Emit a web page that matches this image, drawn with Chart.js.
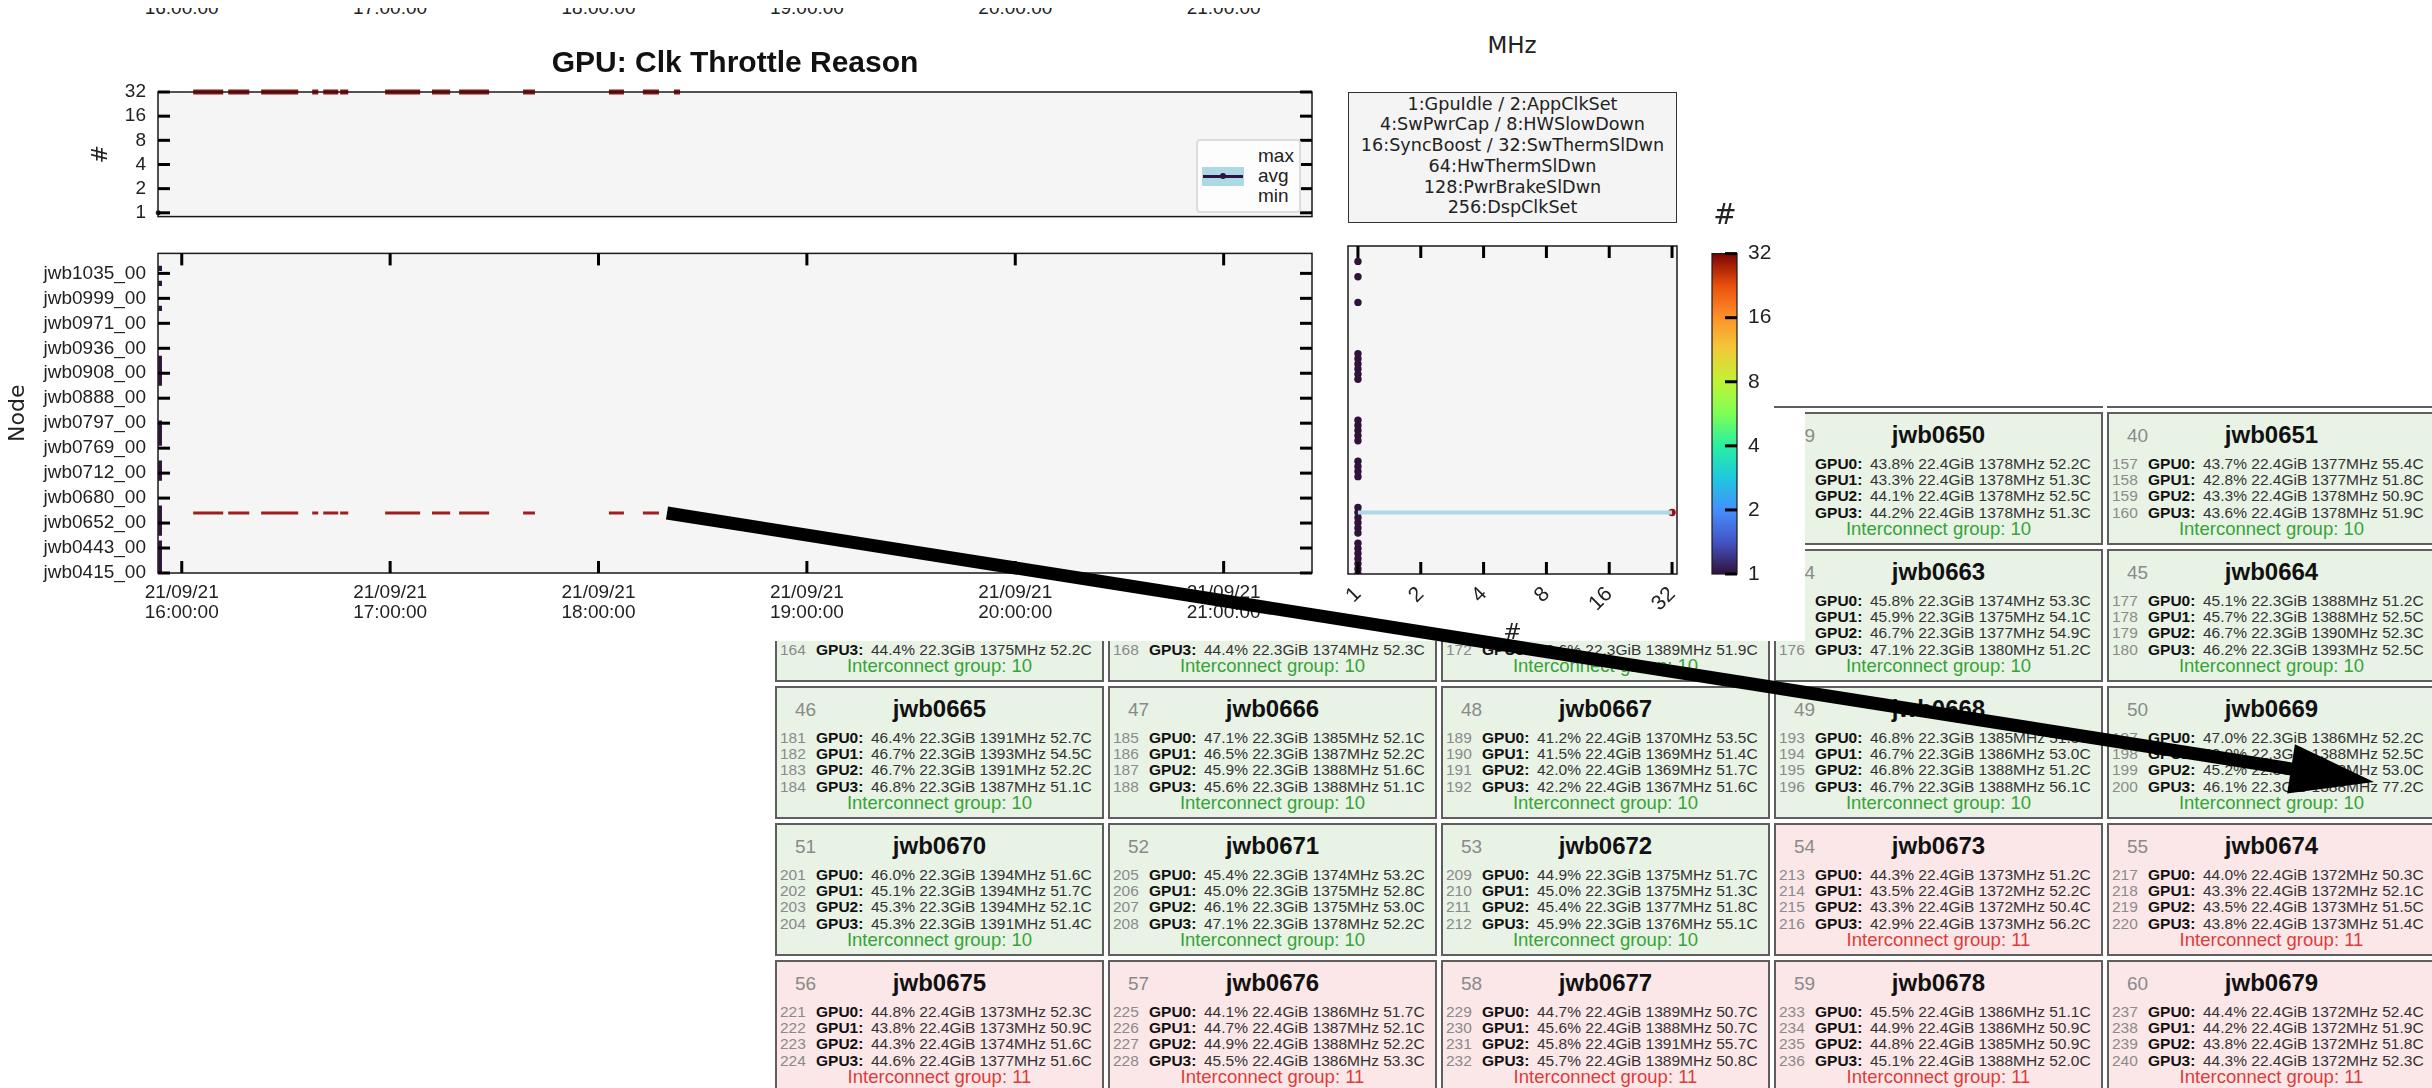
<!DOCTYPE html>
<html>
<head>
<meta charset="utf-8">
<script src="https://cdn.jsdelivr.net/npm/chart.js@4.4.1/dist/chart.umd.min.js"></script>
<style>
html,body{margin:0;padding:0;background:#fff;}
body{width:2432px;height:1088px;position:relative;overflow:hidden;font-family:'Liberation Sans',Arial,sans-serif;color:#222;}
.abs{position:absolute;}
canvas{position:absolute;z-index:3;}
.cover{position:absolute;background:#fff;z-index:2;}
.card{position:absolute;width:329px;height:133px;box-sizing:border-box;border:2px solid #5e5e5e;z-index:1;}
.card.g{background:#e8f3e6;}
.card.r{background:#fbe7e7;}
.card .idx{position:absolute;left:18px;top:10px;font-size:19px;line-height:24px;color:#8a8a8a;}
.card .host{position:absolute;left:0;width:325px;text-align:center;top:7px;font-size:24px;line-height:28px;font-weight:bold;color:#111;}
.card .row{position:absolute;left:0;width:325px;height:17px;line-height:17px;font-size:15.5px;white-space:nowrap;color:#333;}
.row .n{position:absolute;left:3px;color:#8a8a8a;}
.row .l{position:absolute;left:39px;font-weight:bold;color:#111;}
.row .v{position:absolute;left:94px;}
.card .ic{position:absolute;left:0;width:325px;text-align:center;top:104px;font-size:18.5px;line-height:22px;}
.ic.gt{color:#36a336;}
.ic.rt{color:#e03a3a;}
.txt{position:absolute;z-index:4;white-space:nowrap;}
</style>
</head>
<body>
<div id="cards"></div>
<div class="cover" style="left:0;top:0;width:1805px;height:641px;"></div>
<div class="cover" style="left:0;top:0;width:2432px;height:406px;"></div>
<div class="abs" style="left:1774px;top:406px;width:329px;height:2px;background:#5e5e5e;z-index:2"></div>
<div class="abs" style="left:2107px;top:406px;width:329px;height:2px;background:#5e5e5e;z-index:2"></div>

<div id="strip"></div>
<div class="cover" style="left:0;top:0;width:1340px;height:8px;z-index:5"></div>

<div class="txt" style="left:1452px;top:31px;width:120px;text-align:center;font-family:'DejaVu Sans';font-size:23px;line-height:28px;">MHz</div>
<div class="txt" style="left:435px;top:44px;width:600px;text-align:center;font-size:30px;line-height:36px;font-weight:bold;color:#111;">GPU: Clk Throttle Reason</div>

<div class="txt" style="left:1348px;top:92px;width:329px;height:131px;box-sizing:border-box;border:1.5px solid #333;background:#f4f4f4;text-align:center;font-family:'DejaVu Sans';font-size:17.6px;line-height:20.8px;padding-top:0.5px;color:#222;">1:GpuIdle / 2:AppClkSet<br>4:SwPwrCap / 8:HWSlowDown<br>16:SyncBoost / 32:SwThermSlDwn<br>64:HwThermSlDwn<br>128:PwrBrakeSlDwn<br>256:DspClkSet</div>

<div class="txt" style="left:1196px;top:139px;width:105px;height:74px;box-sizing:border-box;border:2px solid #dcdcdc;border-radius:4px;background:#fdfdfd;"></div>
<div class="txt" style="left:1202px;top:167px;width:42px;height:19px;background:#add8e6;"></div>
<div class="txt" style="left:1203px;top:174.5px;width:40px;height:3px;background:#30123b;"></div>
<div class="txt" style="left:1220px;top:173px;width:6px;height:6px;border-radius:3px;background:#30123b;"></div>
<div class="txt" style="left:1258px;top:146px;font-size:19px;line-height:20px;">max</div>
<div class="txt" style="left:1258px;top:166px;font-size:19px;line-height:20px;">avg</div>
<div class="txt" style="left:1258px;top:186px;font-size:19px;line-height:20px;">min</div>

<div class="txt" style="left:1700px;top:198px;width:50px;text-align:center;font-family:'DejaVu Sans';font-size:28px;line-height:34px;">#</div>

<canvas id="cTop" width="1340" height="180" style="left:0;top:60px;"></canvas>
<canvas id="cHeat" width="1340" height="420" style="left:0;top:230px;"></canvas>
<canvas id="cScat" width="360" height="420" style="left:1340px;top:230px;"></canvas>
<canvas id="cBar" width="110" height="380" style="left:1690px;top:230px;"></canvas>

<svg class="abs" style="left:0;top:0;z-index:10" width="2432" height="1088" id="arrow"></svg>

<script>
// ---------------- data ----------------
const HOUR_TICKS = [16, 17, 18, 19, 20, 21];
const DATE_LABEL = '21/09/21';
const NODE_TICK_POS = [0, 5, 10, 15, 20, 25, 30, 35, 40, 45, 50, 55, 60];
const NODE_TICK_LABELS = ['jwb0415_00','jwb0443_00','jwb0652_00','jwb0680_00','jwb0712_00','jwb0769_00','jwb0797_00','jwb0888_00','jwb0908_00','jwb0936_00','jwb0971_00','jwb0999_00','jwb1035_00'];
const COUNT_TICKS = [1, 2, 4, 8, 16, 32];
const THROTTLE_NODE = 12;
const THROTTLE_VALUE = 32;
const THROTTLE_START = [16.055, 16.223, 16.381, 16.626, 16.679, 16.760, 16.976, 17.201, 17.331, 17.638, 18.050, 18.213, 18.362];
const THROTTLE_END   = [16.199, 16.324, 16.559, 16.655, 16.751, 16.799, 17.144, 17.288, 17.475, 17.695, 18.122, 18.290, 18.391];
const FIRST_SAMPLE_START = 15.887;
const FIRST_SAMPLE_END = 15.905;
const IDLE_VALUE = 1;
const IDLE_NODES = [0,1,2,3,4,5,6,8,9,10,11,12,13,19,20,21,22,26,27,28,29,30,38,39,40,41,42,43,53,58,61];
const PREV_TIME_LABELS = ['16:00:00','17:00:00','18:00:00','19:00:00','20:00:00','21:00:00'];

// node cards: [row, col, number, host, group, gpu lines [idx, util, mem, clock, temp]]
const CARDS = [
  [0,3,'39','jwb0650',10,[[153,'43.8%','22.4GiB','1378MHz','52.2C'],[154,'43.3%','22.4GiB','1378MHz','51.3C'],[155,'44.1%','22.4GiB','1378MHz','52.5C'],[156,'44.2%','22.4GiB','1378MHz','51.3C']]],
  [0,4,'40','jwb0651',10,[[157,'43.7%','22.4GiB','1377MHz','55.4C'],[158,'42.8%','22.4GiB','1377MHz','51.8C'],[159,'43.3%','22.4GiB','1378MHz','50.9C'],[160,'43.6%','22.4GiB','1378MHz','51.9C']]],
  [1,0,'','',10,[null,null,null,[164,'44.4%','22.3GiB','1375MHz','52.2C']]],
  [1,1,'','',10,[null,null,null,[168,'44.4%','22.3GiB','1374MHz','52.3C']]],
  [1,2,'','',10,[null,null,null,[172,'46.6%','22.3GiB','1389MHz','51.9C']]],
  [1,3,'44','jwb0663',10,[[173,'45.8%','22.3GiB','1374MHz','53.3C'],[174,'45.9%','22.3GiB','1375MHz','54.1C'],[175,'46.7%','22.3GiB','1377MHz','54.9C'],[176,'47.1%','22.3GiB','1380MHz','51.2C']]],
  [1,4,'45','jwb0664',10,[[177,'45.1%','22.3GiB','1388MHz','51.2C'],[178,'45.7%','22.3GiB','1388MHz','52.5C'],[179,'46.7%','22.3GiB','1390MHz','52.3C'],[180,'46.2%','22.3GiB','1393MHz','52.5C']]],
  [2,0,'46','jwb0665',10,[[181,'46.4%','22.3GiB','1391MHz','52.7C'],[182,'46.7%','22.3GiB','1393MHz','54.5C'],[183,'46.7%','22.3GiB','1391MHz','52.2C'],[184,'46.8%','22.3GiB','1387MHz','51.1C']]],
  [2,1,'47','jwb0666',10,[[185,'47.1%','22.3GiB','1385MHz','52.1C'],[186,'46.5%','22.3GiB','1387MHz','52.2C'],[187,'45.9%','22.3GiB','1388MHz','51.6C'],[188,'45.6%','22.3GiB','1388MHz','51.1C']]],
  [2,2,'48','jwb0667',10,[[189,'41.2%','22.4GiB','1370MHz','53.5C'],[190,'41.5%','22.4GiB','1369MHz','51.4C'],[191,'42.0%','22.4GiB','1369MHz','51.7C'],[192,'42.2%','22.4GiB','1367MHz','51.6C']]],
  [2,3,'49','jwb0668',10,[[193,'46.8%','22.3GiB','1385MHz','51.8C'],[194,'46.7%','22.3GiB','1386MHz','53.0C'],[195,'46.8%','22.3GiB','1388MHz','51.2C'],[196,'46.7%','22.3GiB','1388MHz','56.1C']]],
  [2,4,'50','jwb0669',10,[[197,'47.0%','22.3GiB','1386MHz','52.2C'],[198,'46.0%','22.3GiB','1388MHz','52.5C'],[199,'45.2%','22.3GiB','1388MHz','53.0C'],[200,'46.1%','22.3GiB','1388MHz','77.2C']]],
  [3,0,'51','jwb0670',10,[[201,'46.0%','22.3GiB','1394MHz','51.6C'],[202,'45.1%','22.3GiB','1394MHz','51.7C'],[203,'45.3%','22.3GiB','1394MHz','52.1C'],[204,'45.3%','22.3GiB','1391MHz','51.4C']]],
  [3,1,'52','jwb0671',10,[[205,'45.4%','22.3GiB','1374MHz','53.2C'],[206,'45.0%','22.3GiB','1375MHz','52.8C'],[207,'46.1%','22.3GiB','1375MHz','53.0C'],[208,'47.1%','22.3GiB','1378MHz','52.2C']]],
  [3,2,'53','jwb0672',10,[[209,'44.9%','22.3GiB','1375MHz','51.7C'],[210,'45.0%','22.3GiB','1375MHz','51.3C'],[211,'45.4%','22.3GiB','1377MHz','51.8C'],[212,'45.9%','22.3GiB','1376MHz','55.1C']]],
  [3,3,'54','jwb0673',11,[[213,'44.3%','22.4GiB','1373MHz','51.2C'],[214,'43.5%','22.4GiB','1372MHz','52.2C'],[215,'43.3%','22.4GiB','1372MHz','50.4C'],[216,'42.9%','22.4GiB','1373MHz','56.2C']]],
  [3,4,'55','jwb0674',11,[[217,'44.0%','22.4GiB','1372MHz','50.3C'],[218,'43.3%','22.4GiB','1372MHz','52.1C'],[219,'43.5%','22.4GiB','1373MHz','51.5C'],[220,'43.8%','22.4GiB','1373MHz','51.4C']]],
  [4,0,'56','jwb0675',11,[[221,'44.8%','22.4GiB','1373MHz','52.3C'],[222,'43.8%','22.4GiB','1373MHz','50.9C'],[223,'44.3%','22.4GiB','1374MHz','51.6C'],[224,'44.6%','22.4GiB','1377MHz','51.6C']]],
  [4,1,'57','jwb0676',11,[[225,'44.1%','22.4GiB','1386MHz','51.7C'],[226,'44.7%','22.4GiB','1387MHz','52.1C'],[227,'44.9%','22.4GiB','1388MHz','52.2C'],[228,'45.5%','22.4GiB','1386MHz','53.3C']]],
  [4,2,'58','jwb0677',11,[[229,'44.7%','22.4GiB','1389MHz','50.7C'],[230,'45.6%','22.4GiB','1388MHz','50.7C'],[231,'45.8%','22.4GiB','1391MHz','55.7C'],[232,'45.7%','22.4GiB','1389MHz','50.8C']]],
  [4,3,'59','jwb0678',11,[[233,'45.5%','22.4GiB','1386MHz','51.1C'],[234,'44.9%','22.4GiB','1386MHz','50.9C'],[235,'44.8%','22.4GiB','1385MHz','50.9C'],[236,'45.1%','22.4GiB','1388MHz','52.0C']]],
  [4,4,'60','jwb0679',11,[[237,'44.4%','22.4GiB','1372MHz','52.4C'],[238,'44.2%','22.4GiB','1372MHz','51.9C'],[239,'43.8%','22.4GiB','1372MHz','51.8C'],[240,'44.3%','22.4GiB','1372MHz','52.3C']]]
];

// ---------------- layout / style ----------------
const CARD_X = [775, 1108, 1441, 1774, 2107];
const CARD_Y = [412, 549, 686, 823, 960];
const ROW_TOP = [40.5, 56.8, 73.2, 89.5];
const X_MIN = 15.886, X_MAX = 21.424;
const PURPLE = '#30123b';
const RED_TOP = '#8e1212';
const RED_HEAT = '#9e1f1f';
const RED_DOT = '#9a1010';
const BAND = '#add8e6';
const TURBO = ['#30123b','#4454c4','#4490fe','#1fc8de','#29efa2','#7dff56','#c1f334','#f1ca3a','#fe922a','#ea4f0d','#7a0403'];
const BG = '#f5f5f5';

// cards
const cardHost = document.getElementById('cards');
CARDS.forEach(c => {
  const [r, col, num, host, grp, gpus] = c;
  const d = document.createElement('div');
  d.className = 'card ' + (grp === 10 ? 'g' : 'r');
  d.style.left = CARD_X[col] + 'px';
  d.style.top = CARD_Y[r] + 'px';
  let html = '<div class="idx">' + num + '</div><div class="host">' + host + '</div>';
  gpus.forEach((g, i) => {
    if (!g) return;
    html += '<div class="row" style="top:' + ROW_TOP[i] + 'px"><span class="n">' + g[0] + '</span><span class="l">GPU' + i + ':</span><span class="v">' + g[1] + ' ' + g[2] + ' ' + g[3] + ' ' + g[4] + '</span></div>';
  });
  html += '<div class="ic ' + (grp === 10 ? 'gt' : 'rt') + '">Interconnect group: ' + grp + '</div>';
  d.innerHTML = html;
  cardHost.appendChild(d);
});

// strip of cut labels from the figure above
const strip = document.getElementById('strip');
const STRIP_X = [181.7, 390.1, 598.5, 806.9, 1015.3, 1223.7];
PREV_TIME_LABELS.forEach((t, i) => {
  const e = document.createElement('div');
  e.className = 'txt';
  e.style.cssText = 'left:' + (STRIP_X[i] - 60) + 'px;top:-2px;width:120px;text-align:center;font-size:19px;line-height:19px;';
  e.textContent = t;
  strip.appendChild(e);
});

// arrow
(function () {
  const sx = 667, sy = 513, tx = 2374, ty = 782;
  const dx = tx - sx, dy = ty - sy, len = Math.hypot(dx, dy);
  const ux = dx / len, uy = dy / len, px = -uy, py = ux;
  const hl = 84, hw = 25;
  const bx = tx - ux * hl, by = ty - uy * hl;
  const svg = document.getElementById('arrow');
  svg.innerHTML =
    '<line x1="' + sx + '" y1="' + sy + '" x2="' + (bx + ux * 4) + '" y2="' + (by + uy * 4) + '" stroke="#000" stroke-width="13"/>' +
    '<polygon fill="#000" points="' + tx + ',' + ty + ' ' + (bx + px * hw) + ',' + (by + py * hw) + ' ' + (bx - px * hw) + ',' + (by - py * hw) + '"/>';
})();

// ---------------- chart helpers ----------------
Chart.defaults.font.family = "'Liberation Sans', Arial, sans-serif";
Chart.defaults.color = '#222';

const framePlugin = {
  id: 'frame',
  beforeDraw(chart, args, o) {
    if (!o.bg) return;
    const a = chart.chartArea, ctx = chart.ctx;
    ctx.save(); ctx.fillStyle = o.bg;
    ctx.fillRect(a.left, a.top, a.right - a.left, a.bottom - a.top);
    ctx.restore();
  },
  afterDraw(chart, args, o) {
    const a = chart.chartArea, ctx = chart.ctx;
    ctx.save();
    ctx.strokeStyle = o.color || '#1a1a1a';
    ctx.lineWidth = o.lineWidth || 1.5;
    ctx.strokeRect(a.left, a.top, a.right - a.left, a.bottom - a.top);
    ctx.strokeStyle = '#000';
    ctx.lineWidth = 3;
    const L = 12;
    (o.sides || []).forEach(side => {
      const vertical = side === 'left' || side === 'right';
      const scale = chart.scales[vertical ? 'y' : 'x'];
      scale.ticks.forEach(t => {
        const p = scale.getPixelForValue(t.value);
        ctx.beginPath();
        if (side === 'left') { ctx.moveTo(a.left, p); ctx.lineTo(a.left + L, p); }
        if (side === 'right') { ctx.moveTo(a.right, p); ctx.lineTo(a.right - L, p); }
        if (side === 'top') { ctx.moveTo(p, a.top); ctx.lineTo(p, a.top + L); }
        if (side === 'bottom') { ctx.moveTo(p, a.bottom); ctx.lineTo(p, a.bottom - L); }
        ctx.stroke();
      });
    });
    ctx.restore();
  }
};

function segData(starts, ends, yv) {
  const out = [];
  starts.forEach((s, i) => {
    out.push({x: s, y: yv}, {x: ends[i], y: yv}, {x: ends[i], y: null});
  });
  return out;
}
const noGrid = {display: false, drawTicks: false};
const tickFont = {family: "'Liberation Sans', Arial, sans-serif", size: 19};
const bigTickFont = {family: "'Liberation Sans', Arial, sans-serif", size: 21};
const titleFont = {family: "'DejaVu Sans', sans-serif", size: 22};
const base = {responsive: false, maintainAspectRatio: false, animation: false, devicePixelRatio: 1,
  plugins: {legend: {display: false}, tooltip: {enabled: false}}};

// ---------------- top plot ----------------
new Chart(document.getElementById('cTop'), {
  type: 'line',
  data: {datasets: [
    {label: 'max', data: segData(THROTTLE_START, THROTTLE_END, THROTTLE_VALUE), borderColor: RED_TOP, borderWidth: 5, pointRadius: 0, spanGaps: false, clip: false},
    {label: 'avg', data: [{x: FIRST_SAMPLE_START, y: IDLE_VALUE}], showLine: false, pointRadius: 2.5, pointBackgroundColor: PURPLE, pointBorderWidth: 0, clip: false}
  ]},
  options: Object.assign({}, base, {
    layout: {padding: {left: 84, top: 32, right: 28, bottom: 17}},
    plugins: Object.assign({}, base.plugins, {frame: {bg: BG, sides: ['left', 'right']}}),
    scales: {
      x: {type: 'linear', min: X_MIN, max: X_MAX, display: false},
      y: {type: 'logarithmic', min: 0.897, max: 32,
          afterBuildTicks: s => { s.ticks = COUNT_TICKS.map(v => ({value: v})); },
          afterFit: s => { s.width = 74; },
          grid: noGrid, border: {display: false},
          ticks: {padding: 12, font: tickFont, color: '#222', callback: v => String(v)},
          title: {display: true, text: '#', font: titleFont, color: '#222', padding: {top: 4, bottom: 4}}}
    }
  }),
  plugins: [framePlugin]
});

// ---------------- node heatmap ----------------
const idleCells = [];
IDLE_NODES.forEach(n => { idleCells.push({x: FIRST_SAMPLE_START, y: n}, {x: FIRST_SAMPLE_END, y: n}, {x: FIRST_SAMPLE_END, y: null}); });

new Chart(document.getElementById('cHeat'), {
  type: 'line',
  data: {datasets: [
    {label: 'idle', data: idleCells, borderColor: PURPLE, borderWidth: 5.2, pointRadius: 0, spanGaps: false, borderCapStyle: 'butt'},
    {label: 'throttle', data: segData(THROTTLE_START, THROTTLE_END, THROTTLE_NODE), borderColor: RED_HEAT, borderWidth: 3, pointRadius: 0, spanGaps: false, borderCapStyle: 'butt'}
  ]},
  options: Object.assign({}, base, {
    layout: {padding: {left: 1, top: 16, right: 28, bottom: 17}},
    plugins: Object.assign({}, base.plugins, {frame: {bg: BG, sides: ['left', 'right', 'top', 'bottom']}}),
    scales: {
      x: {type: 'linear', min: X_MIN, max: X_MAX,
          afterBuildTicks: s => { s.ticks = HOUR_TICKS.map(v => ({value: v})); },
          afterFit: s => { s.height = 60; },
          grid: noGrid, border: {display: false},
          ticks: {padding: 10, maxRotation: 0, minRotation: 0, font: Object.assign({lineHeight: '20px'}, tickFont), color: '#222',
                  callback: v => [DATE_LABEL, String(v).padStart(2, '0') + ':00:00']}},
      y: {type: 'linear', min: 0, max: 64,
          afterBuildTicks: s => { s.ticks = NODE_TICK_POS.map(v => ({value: v})); },
          afterFit: s => { s.width = 157; },
          grid: noGrid, border: {display: false},
          ticks: {padding: 12, font: tickFont, color: '#222', callback: v => NODE_TICK_LABELS[NODE_TICK_POS.indexOf(v)]},
          title: {display: true, text: 'Node', font: titleFont, color: '#222', padding: {top: 4, bottom: 4}}}
    }
  }),
  plugins: [framePlugin]
});

// ---------------- per-node range scatter ----------------
new Chart(document.getElementById('cScat'), {
  type: 'line',
  data: {datasets: [
    {label: 'range', data: [{x: IDLE_VALUE, y: THROTTLE_NODE}, {x: THROTTLE_VALUE, y: THROTTLE_NODE}], borderColor: BAND, borderWidth: 4, pointRadius: 0},
    {label: 'min', data: IDLE_NODES.map(n => ({x: IDLE_VALUE, y: n})), showLine: false, pointRadius: 3.7, pointBackgroundColor: PURPLE, pointBorderWidth: 0},
    {label: 'max', data: [{x: THROTTLE_VALUE, y: THROTTLE_NODE}], showLine: false, pointRadius: 3.7, pointBackgroundColor: RED_DOT, pointBorderWidth: 0}
  ]},
  options: Object.assign({}, base, {
    layout: {padding: {left: 8, top: 16, right: 23, bottom: 0}},
    plugins: Object.assign({}, base.plugins, {frame: {bg: BG, sides: ['top', 'bottom']}}),
    scales: {
      x: {type: 'logarithmic', min: 0.896, max: 33.8,
          afterBuildTicks: s => { s.ticks = COUNT_TICKS.map(v => ({value: v})); },
          afterFit: s => { s.height = 76; },
          grid: noGrid, border: {display: false},
          ticks: {padding: 8, minRotation: 45, maxRotation: 45, font: bigTickFont, color: '#222', callback: v => String(v)},
          title: {display: true, text: '#', font: titleFont, color: '#222', padding: {top: 4, bottom: 4}}},
      y: {type: 'linear', min: 0, max: 64, display: false}
    }
  }),
  plugins: [framePlugin]
});

// ---------------- colour bar ----------------
new Chart(document.getElementById('cBar'), {
  type: 'bar',
  data: {labels: ['#'], datasets: [{
    data: [[COUNT_TICKS[0], COUNT_TICKS[COUNT_TICKS.length - 1]]],
    barPercentage: 1, categoryPercentage: 1, borderWidth: 0,
    backgroundColor: c => {
      const a = c.chart.chartArea;
      if (!a) return PURPLE;
      const g = c.chart.ctx.createLinearGradient(0, a.bottom, 0, a.top);
      TURBO.forEach((col, i) => g.addColorStop(i / (TURBO.length - 1), col));
      return g;
    }
  }]},
  options: Object.assign({}, base, {
    layout: {padding: {left: 22, top: 14, right: 13, bottom: 36}},
    plugins: Object.assign({}, base.plugins, {frame: {lineWidth: 1.2, sides: ['right']}}),
    scales: {
      x: {type: 'category', display: false},
      y: {type: 'logarithmic', position: 'right', min: 1, max: 32,
          afterBuildTicks: s => { s.ticks = COUNT_TICKS.map(v => ({value: v})); },
          afterFit: s => { s.width = 50; },
          grid: noGrid, border: {display: false},
          ticks: {padding: 11, font: bigTickFont, color: '#222', callback: v => String(v)}}
    }
  }),
  plugins: [framePlugin]
});
</script>
</body>
</html>
